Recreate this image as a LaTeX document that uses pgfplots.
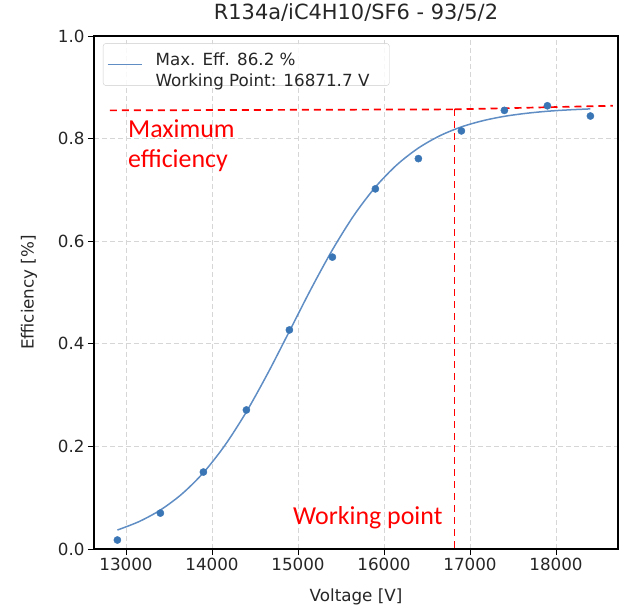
\documentclass[border=0pt]{standalone}
\usepackage{pgfplots}
\pgfplotsset{compat=1.18}
\usepackage{fontspec}
\setmainfont{DejaVu Sans}
\newfontfamily\calib{Carlito}
\definecolor{ptblue}{HTML}{3A76B5}
\definecolor{lnblue}{HTML}{5F8DC4}
\definecolor{gridgray}{HTML}{D6D6D6}
\begin{document}
\begin{tikzpicture}
\begin{axis}[
  at={(0,0)}, anchor=south west,
  scale only axis,
  width=524bp, height=513bp,
  xmin=12628, xmax=18721,
  ymin=0, ymax=1,
  xtick={13000,14000,15000,16000,17000,18000},
  ytick={0,0.2,0.4,0.6,0.8,1.0},
  scaled x ticks=false,
  /pgf/number format/assume math mode=true,
  xticklabel style={/pgf/number format/.cd, 1000 sep={}, fixed},
  yticklabel style={/pgf/number format/.cd, fixed, fixed zerofill, precision=1},
  tick label style={font=\fontsize{16.8}{20}\selectfont, color=black!85},
  tick align=outside,
  major tick length=6bp,
  tick style={black, line width=0.9bp},
  xtick pos=bottom, ytick pos=left,
  axis line style={black, line width=1.1bp},
  grid=major,
  major grid style={gridgray, dashed, line width=0.9bp, dash pattern=on 5bp off 3bp},
  xlabel={Voltage [V]},
  ylabel={Efficiency [\%]},
  label style={font=\fontsize{16.8}{20}\selectfont, color=black!85},
  xlabel style={at={(axis description cs:0.5,-0.0936)}, anchor=center},
  ylabel style={at={(axis description cs:-0.1238,0.5)}, anchor=center},
  title={R134a/iC4H10/SF6 - 93/5/2},
  title style={font=\fontsize{21}{25}\selectfont, at={(axis description cs:0.5,1.035)}, anchor=center, color=black!85},
  legend style={at={(axis description cs:0.017,0.986)}, anchor=north west,
    draw=black!20, rounded corners=3bp, fill=white, fill opacity=0.85, text opacity=1,
    font=\fontsize{16.8}{20}\selectfont, text=black!85,
    inner xsep=4bp, inner ysep=6bp},
  legend cell align=left,
  legend image code/.code={\draw[#1] (0bp,0bp) -- (34bp,0bp);},
]
\addplot[lnblue, line width=1.5bp, smooth] coordinates {
(12900,0.0370) (13150,0.0533) (13400,0.0760) (13650,0.1072) (13900,0.1487)
(14150,0.2021) (14400,0.2674) (14650,0.3429) (14900,0.4244) (15150,0.5064)
(15400,0.5831) (15650,0.6503) (15900,0.7055) (16150,0.7489) (16400,0.7816)
(16650,0.8056) (16900,0.8228) (17150,0.8349) (17400,0.8434) (17650,0.8492)
(17900,0.8533) (18150,0.8560) (18400,0.8579)
};
\addlegendentry{\hspace*{11bp}\begin{tabular}{@{}l@{}}Max. Eff. 86.2 \%\\[1bp]Working Point: 16871.7 V\end{tabular}\hspace*{14bp}}
\addplot[only marks, mark=*, mark size=3.6bp, ptblue, mark options={draw=ptblue, fill=ptblue}, forget plot] coordinates {
(12900,0.0175) (13400,0.070) (13900,0.150) (14400,0.271) (14900,0.427)
(15400,0.569) (15900,0.702) (16400,0.761) (16900,0.815) (17400,0.855)
(17900,0.864) (18400,0.844)
};
\addplot[red, dashed, line width=1.7bp, dash pattern=on 7bp off 5bp, forget plot] coordinates {
(12814,0.855) (16820,0.857)
};
\addplot[red, dashed, line width=1.7bp, dash pattern=on 7bp off 5bp, forget plot] coordinates {
(16820,0.857) (18660,0.864)
};
\addplot[red, dashed, line width=1.7bp, dash pattern=on 7bp off 5bp, forget plot] coordinates {
(16820,0.857) (16820,0)
};
\node[anchor=base west, inner sep=0pt, text=red, font=\calib\fontsize{26}{31}\selectfont] at (axis cs:13023,0.803) {Maximum};
\node[anchor=base west, inner sep=0pt, text=red, font=\calib\fontsize{26}{31}\selectfont] at (axis cs:13023,0.7427) {efficiency};
\node[anchor=base west, inner sep=0pt, text=red, font=\calib\fontsize{26}{31}\selectfont] at (axis cs:14942,0.0468) {Working point};
\end{axis}
\pgfresetboundingbox
\path[use as bounding box] (-94bp,-59bp) rectangle (527bp,549bp);
\end{tikzpicture}
\end{document}
